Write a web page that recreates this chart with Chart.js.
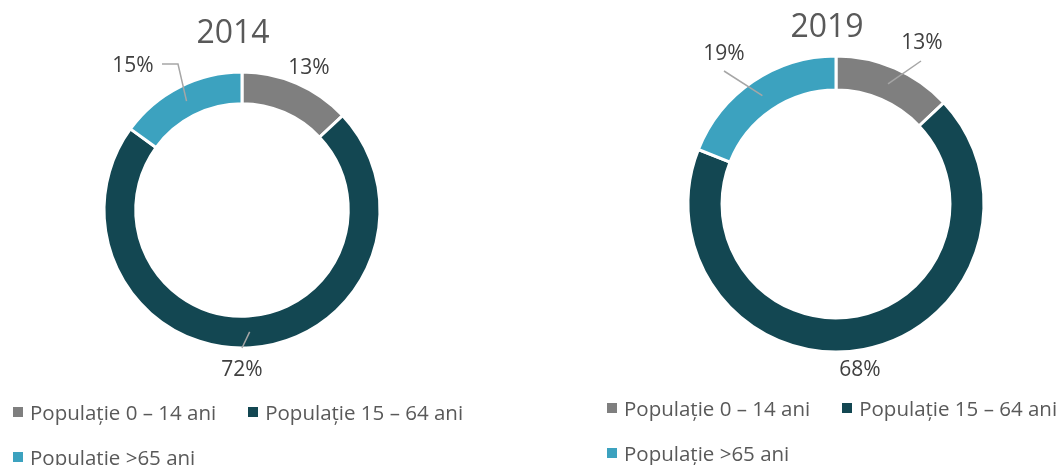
<!DOCTYPE html>
<html lang="ro">
<head>
  <meta charset="UTF-8" />
  <title>Structura populației 2014 / 2019</title>
  <script src="https://cdn.jsdelivr.net/npm/chart.js"></script>
  <style>
    body {
      margin: 0;
      width: 1062px;
      height: 465px;
      overflow: hidden;
      background: #ffffff;
      font-family: 'Open Sans', sans-serif;
      position: relative;
    }
    .box {
      position: absolute;
    }
    #wrap2014 { left: 0; top: 0; width: 484px; height: 420px; }
    #wrap2019 { left: 560px; top: 0; width: 502px; height: 408px; }
    .legend {
      position: absolute;
      display: flex;
      flex-wrap: wrap;
      row-gap: 25px;
      width: 500px;
      color: #595959;
      font-size: 20.5px;
    }
    .legend .item {
      display: flex;
      align-items: center;
      height: 20px;
      line-height: 20px;
      margin-right: 32px;
      white-space: nowrap;
    }
    .legend .swatch {
      width: 10px;
      height: 10px;
      margin-right: 7px;
    }
    #legend2014 { left: 13px; top: 402px; }
    #legend2019 { left: 607px; top: 398px; }
  </style>
</head>
<body>
  <div class="box" id="wrap2014"><canvas id="chart2014"></canvas></div>
  <div class="box" id="wrap2019"><canvas id="chart2019"></canvas></div>
  <div class="legend" id="legend2014"></div>
  <div class="legend" id="legend2019"></div>

  <script>
    // data
    const categories = ['Populație 0 – 14 ani', 'Populație 15 – 64 ani', 'Populație >65 ani'];
    const years = ['2014', '2019'];
    const values2014 = [13, 72, 15];
    const values2019 = [13, 68, 19];

    const colors = ['#7f7f7f', '#134752', '#3ca2bf'];

    // title + percentage labels with leader lines (Excel style)
    const sliceLabels = {
      id: 'sliceLabels',
      afterDatasetsDraw(chart, args, opts) {
        const ctx = chart.ctx;
        const meta = chart.getDatasetMeta(0);
        const data = chart.data.datasets[0].data;
        const cx = meta.data[0].x, cy = meta.data[0].y;
        ctx.save();
        ctx.textAlign = 'center';
        ctx.textBaseline = 'middle';

        ctx.fillStyle = '#595959';
        ctx.font = "32px 'Open Sans', sans-serif";
        ctx.fillText(opts.title, cx + opts.titleAt[0], cy + opts.titleAt[1]);

        ctx.font = "21px 'Open Sans', sans-serif";
        ctx.strokeStyle = '#a6a6a6';
        ctx.lineWidth = 1.5;
        meta.data.forEach((arc, i) => {
          const p = arc.getProps(['startAngle', 'endAngle', 'innerRadius', 'outerRadius'], true);
          const mid = (p.startAngle + p.endAngle) / 2;
          const r = (p.innerRadius + p.outerRadius) / 2;
          const place = opts.place[i];
          if (place.line) {
            ctx.beginPath();
            ctx.moveTo(cx + Math.cos(mid) * r, cy + Math.sin(mid) * r);
            place.line.forEach(pt => ctx.lineTo(cx + pt[0], cy + pt[1]));
            ctx.stroke();
          }
          ctx.fillStyle = '#404040';
          ctx.fillText(data[i] + '%', cx + place.at[0], cy + place.at[1]);
        });
        ctx.restore();
      }
    };

    function makeChart(id, values, year, radius, padLeft, place) {
      return new Chart(document.getElementById(id), {
        type: 'doughnut',
        data: {
          labels: categories,
          datasets: [{
            data: values,
            backgroundColor: colors,
            borderColor: '#ffffff',
            borderWidth: 3,
            hoverOffset: 0
          }]
        },
        options: {
          responsive: true,
          maintainAspectRatio: false,
          animation: false,
          events: [],
          radius: radius,
          cutout: '77%',
          layout: { padding: { left: padLeft } },
          plugins: {
            legend: { display: false },
            tooltip: { enabled: false },
            sliceLabels: { title: year, titleAt: [-9, -176], place: place }
          }
        },
        plugins: [sliceLabels]
      });
    }

    makeChart('chart2014', values2014, years[0], 138, 0, [
      { at: [67, -142] },
      { at: [0, 160], line: [[0, 138]] },
      { at: [-109, -144], line: [[-64, -146], [-80, -146]] }
    ]);

    makeChart('chart2019', values2019, years[1], 148, 50, [
      { at: [86, -161], line: [[85, -143]] },
      { at: [24, 166] },
      { at: [-112, -150], line: [[-112, -133]] }
    ]);

    // legend (left-aligned rows, like the original)
    function buildLegend(elId) {
      const el = document.getElementById(elId);
      categories.forEach((c, i) => {
        const item = document.createElement('div');
        item.className = 'item';
        item.innerHTML = `<span class="swatch" style="background:${colors[i]}"></span>${c}`;
        el.appendChild(item);
      });
    }
    buildLegend('legend2014');
    buildLegend('legend2019');
  </script>
</body>
</html>
